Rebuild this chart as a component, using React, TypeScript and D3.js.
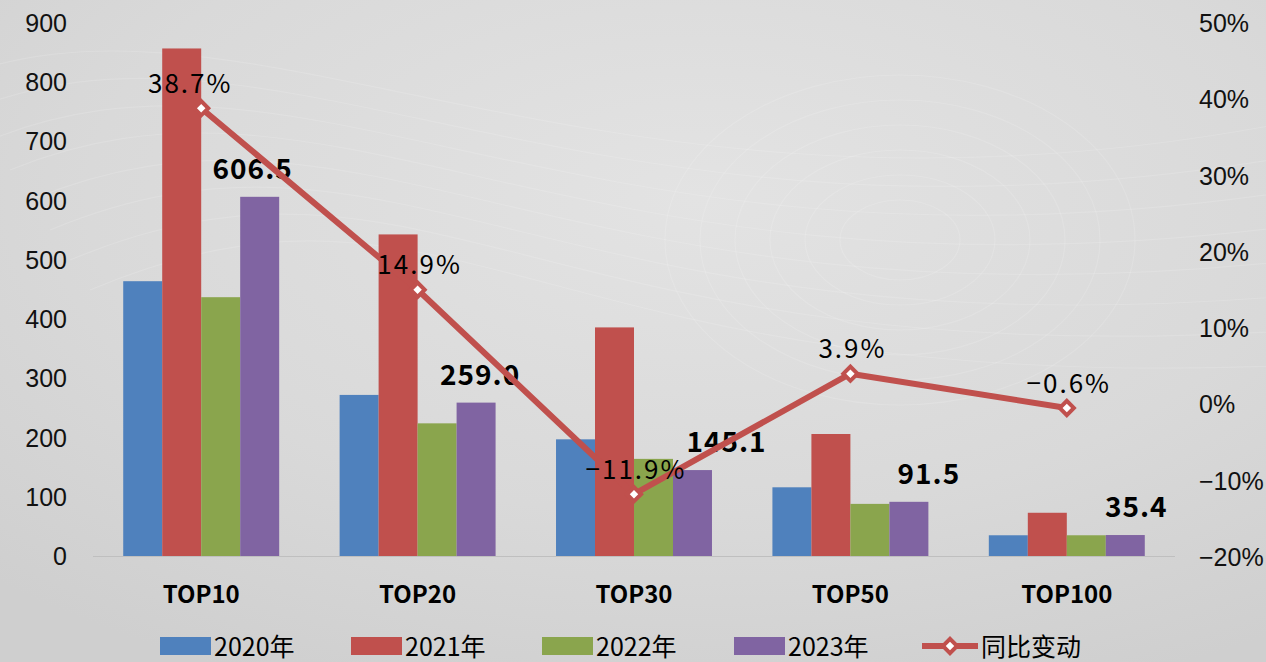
import React from "react";
import * as d3 from "d3";

const categories = ["TOP10", "TOP20", "TOP30", "TOP50", "TOP100"];
const seriesNames = ["2020年", "2021年", "2022年", "2023年"];
const s2020 = [464, 272, 197, 116, 35];
const s2021 = [857, 543, 386, 206, 73];
const s2022 = [437, 224, 164, 88, 35];
const s2023 = [606.5, 259.0, 145.1, 91.5, 35.4];
const yoy = [0.387, 0.149, -0.119, 0.039, -0.006];
const yoyLabels = ["38.7%", "14.9%", "-11.9%", "3.9%", "-0.6%"];
const leftTicks = [0, 100, 200, 300, 400, 500, 600, 700, 800, 900];
const rightTicks = [-0.2, -0.1, 0, 0.1, 0.2, 0.3, 0.4, 0.5];
const lineName = "同比变动";
const colors = ["#4F81BD", "#C0504D", "#8AA54D", "#8064A2"];
const lineColor = "#C0504D";
// label nudges (layout only)
const barLabelDx = [-7, 4, 34, 20, 11];

const W = 1266;
const H = 662;
const CJK = "'Noto Sans CJK SC', 'Noto Sans', sans-serif";

export default function App() {
  const series = [s2020, s2021, s2022, s2023];
  const x = d3.scaleBand<string>().domain(categories).range([93, 1175]).padding(0);
  const xs = d3
    .scaleBand<string>()
    .domain(seriesNames)
    .range([0, x.bandwidth()])
    .paddingInner(0)
    .paddingOuter(0.775);
  const yL = d3.scaleLinear().domain([0, 900]).range([556, 23]);
  const yR = d3.scaleLinear().domain([-0.2, 0.5]).range([556, 22]);
  const cx = (c: string) => (x(c) as number) + x.bandwidth() / 2;
  const line = d3
    .line<number>()
    .x((_, i) => cx(categories[i]))
    .y((d) => yR(d));
  const marker = d3.symbol().type(d3.symbolSquare).size(100)() as string;
  const fmtR = (v: number) => `${Math.round(v * 100)}%`.replace("-", "−");

  const legendItems = [
    { x: 160, label: seriesNames[0], color: colors[0] },
    { x: 351, label: seriesNames[1], color: colors[1] },
    { x: 542, label: seriesNames[2], color: colors[2] },
    { x: 734, label: seriesNames[3], color: colors[3] },
  ];

  return (
    <svg
      width={W}
      height={H}
      style={{ position: "absolute", left: 0, top: 0, display: "block" }}
    >
      <defs>
        <radialGradient id="bg" cx="0.55" cy="0.3" r="0.8">
          <stop offset="0" stopColor="#e3e3e3" />
          <stop offset="0.6" stopColor="#d9d9d9" />
          <stop offset="1" stopColor="#cfcfcf" />
        </radialGradient>
      </defs>
      <rect x={0} y={0} width={W} height={H} fill="url(#bg)" />
      <g fill="none" stroke="#ffffff" strokeOpacity={0.14} strokeWidth={1.2}>
        {[0, 1, 2, 3, 4, 5, 6, 7].map((k) => (
          <path
            key={k}
            d={`M${-50 + k * 20},${80 + k * 30} C${250 + k * 30},${-40 + k * 25} ${600 - k * 10},${260 + k * 20} ${1300},${120 + k * 35}`}
          />
        ))}
        {[0, 1, 2, 3, 4, 5].map((k) => (
          <ellipse key={"e" + k} cx={900} cy={240} rx={60 + k * 35} ry={40 + k * 25} />
        ))}
      </g>

      {/* baseline */}
      <line x1={93} x2={1175} y1={yL(0) + 0.5} y2={yL(0) + 0.5} stroke="#bfbfbf" strokeWidth={1} />

      {/* left axis */}
      <g fontFamily="'Liberation Sans', Arial, sans-serif" fontSize={25} fill="#111">
        {leftTicks.map((t) => (
          <text key={t} x={67} y={yL(t)} textAnchor="end" dominantBaseline="central">
            {t}
          </text>
        ))}
      </g>
      {/* right axis */}
      <g fontFamily="'Liberation Sans', Arial, sans-serif" fontSize={25} fill="#111">
        {rightTicks.map((t) => (
          <text key={t} x={1199} y={yR(t) + 1} textAnchor="start" dominantBaseline="central">
            {fmtR(t)}
          </text>
        ))}
      </g>

      {/* bars */}
      {series.map((vals, si) => (
        <g key={si} fill={colors[si]}>
          {vals.map((v, ci) => (
            <rect
              key={ci}
              x={(x(categories[ci]) as number) + (xs(seriesNames[si]) as number)}
              y={yL(v)}
              width={xs.bandwidth()}
              height={yL(0) - yL(v)}
            />
          ))}
        </g>
      ))}

      {/* bar labels for 2023 */}
      <g fontFamily={CJK} fontWeight={700} fontSize={28} fill="#000" textAnchor="middle" letterSpacing={1}>
        {s2023.map((v, ci) => (
          <text
            key={ci}
            x={(x(categories[ci]) as number) + (xs(seriesNames[3]) as number) + xs.bandwidth() / 2 + barLabelDx[ci]}
            y={yL(v) - 30}
            dominantBaseline="central"
          >
            {v.toFixed(1)}
          </text>
        ))}
      </g>

      {/* line */}
      <path d={line(yoy) as string} fill="none" stroke={lineColor} strokeWidth={6} strokeLinejoin="round" />
      {yoy.map((v, i) => (
        <path
          key={i}
          d={marker}
          transform={`translate(${cx(categories[i])},${yR(v)}) rotate(45)`}
          fill="#ffffff"
          stroke={lineColor}
          strokeWidth={4}
        />
      ))}
      <g fontFamily={CJK} fontSize={26} fill="#000" textAnchor="middle" letterSpacing={2}>
        {yoy.map((v, i) => (
          <text key={i} x={cx(categories[i]) + (i === 0 ? -11 : 2)} y={yR(v) - 27} dominantBaseline="central">
            {yoyLabels[i].replace("-", "−")}
          </text>
        ))}
      </g>

      {/* category labels */}
      <g fontFamily={CJK} fontWeight={700} fontSize={24} fill="#000" textAnchor="middle">
        {categories.map((c) => (
          <text key={c} x={cx(c)} y={592} dominantBaseline="central">
            {c}
          </text>
        ))}
      </g>

      {/* legend */}
      <g fontFamily={CJK} fontSize={25} fill="#000">
        {legendItems.map((it) => (
          <g key={it.label}>
            <rect x={it.x} y={637} width={51} height={18} fill={it.color} />
            <text x={it.x + 54} y={645} dominantBaseline="central">
              {it.label}
            </text>
          </g>
        ))}
        <line x1={922} x2={978} y1={646} y2={646} stroke={lineColor} strokeWidth={6} />
        <path d={marker} transform="translate(950,646) rotate(45)" fill="#fff" stroke={lineColor} strokeWidth={4} />
        <text x={981} y={645} dominantBaseline="central">
          {lineName}
        </text>
      </g>
    </svg>
  );
}
